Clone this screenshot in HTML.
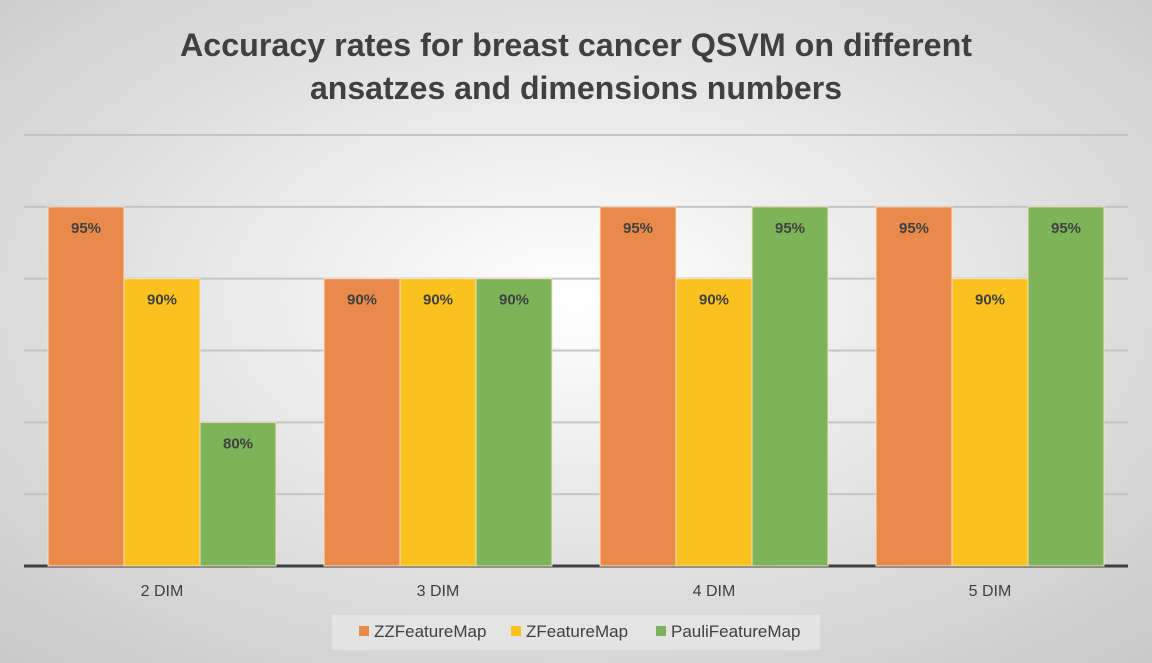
<!DOCTYPE html>
<html><head><meta charset="utf-8"><style>
html,body{margin:0;padding:0;width:1152px;height:663px;overflow:hidden}
svg{display:block;font-family:"Liberation Sans",sans-serif}
</style></head><body>
<svg id="chart" width="1152" height="663" viewBox="0 0 1152 663">
<defs>
<radialGradient id="bg" cx="0.5" cy="0.45" r="0.75">
<stop offset="0" stop-color="#ffffff"/><stop offset="1" stop-color="#c8c8c8"/>
</radialGradient>
</defs>
<rect width="1152" height="663" fill="url(#bg)"/>
<text x="576" y="56" text-anchor="middle" font-size="32" font-weight="bold" fill="#404040" textLength="792" lengthAdjust="spacingAndGlyphs">Accuracy rates for breast cancer QSVM on different</text>
<text x="576" y="99" text-anchor="middle" font-size="32" font-weight="bold" fill="#404040" textLength="532" lengthAdjust="spacingAndGlyphs">ansatzes and dimensions numbers</text>
<g id="grid"></g><g id="bars"></g><g id="xlabels"></g>
<rect x="332" y="615" width="488" height="35" fill="#e6e6e6" opacity="0.8"/>
<g id="legend"></g>
</svg>
<script>
const categories=["2 DIM","3 DIM","4 DIM","5 DIM"];
const seriesNames=["ZZFeatureMap","ZFeatureMap","PauliFeatureMap"];
const zz=[95,90,95,95];
const zf=[90,90,90,90];
const pauli=[80,90,95,95];
const yTicks=[70,75,80,85,90,95,100];
const colors=["#ea8a4a","#fbc21f","#7db45a"];
const series=[zz,zf,pauli];
const NS="http://www.w3.org/2000/svg";
const x0=24,x1=1128,yBase=566,yTop=135,vMin=70,vMax=100;
const y=v=>yBase-(v-vMin)/(vMax-vMin)*(yBase-yTop);
const band=(x1-x0)/categories.length, bw=76;
function mk(tag,attrs,parent){const e=document.createElementNS(NS,tag);for(const k in attrs)e.setAttribute(k,attrs[k]);document.getElementById(parent).appendChild(e);return e;}
yTicks.forEach(t=>{if(t===vMin)return;
 const l=mk('line',{x1:x0,x2:x1,y1:y(t),y2:y(t),stroke:'#c4c4c4','stroke-width':2},'grid');
 
 
});
categories.forEach((c,i)=>{
 const cx=x0+band*(i+0.5);
 series.forEach((s,j)=>{
  const bx=cx-1.5*bw+j*bw;
  const r=mk('rect',{x:bx,y:y(s[i]),width:bw,height:yBase-y(s[i]),fill:colors[j],stroke:'#f5e0c8','stroke-width':1},'bars');
  
  
  const t=mk('text',{x:bx+bw/2,y:y(s[i])+26,'text-anchor':'middle','font-size':15,'font-weight':'bold',fill:'#404040'},'bars');
  t.textContent=s[i]+'%';
  
  
 });
 const xl=mk('text',{x:cx,y:596,'text-anchor':'middle','font-size':16,fill:'#404040'},'xlabels');
 xl.textContent=c;
 
 
});
const ax=mk('line',{x1:x0,x2:x1,y1:yBase,y2:yBase,stroke:'#404040','stroke-width':3},'grid');


const legX=[359,511,656];
seriesNames.forEach((n,j)=>{
 const sw=mk('rect',{x:legX[j],y:626,width:10,height:10,fill:colors[j]},'legend');
 
 
 const t=mk('text',{x:legX[j]+15,y:637,'font-size':17,fill:'#404040'},'legend');
 t.textContent=n;
 
 
});
</script>
</body></html>
